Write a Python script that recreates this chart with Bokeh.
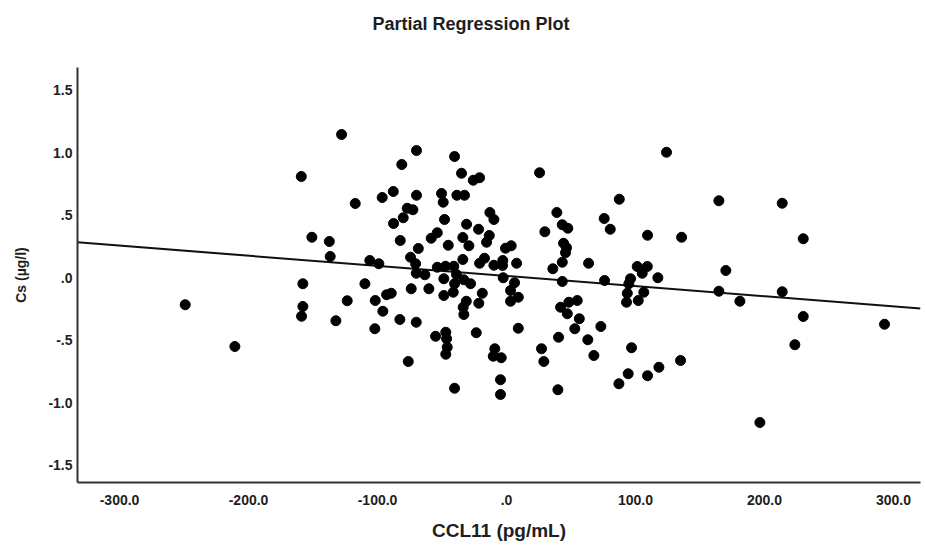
from bokeh.plotting import figure
from bokeh.models import Range1d, FixedTicker, ColumnDataSource, Title
from bokeh.embed import file_html
from bokeh.resources import INLINE
import numpy as np

# ---- data ----
ccl11 = [
    -127.9, -159.1, -117.3, -96.4, -87.8, -87.6, -150.9, -137.4, -136.7, -106.0,
    -99.0, -157.9, -109.8, -249.1, -157.9, -158.9, -123.5, -101.8, -93.0, -89.4,
    -95.9, -132.3, -102.1, -210.6,
    -69.8, -81.2, -40.3, -34.9, -25.8, -20.9, 25.6, 124.0, -69.8, -50.4,
    -49.1, -38.5, -32.6, 87.4, -77.0, -72.6, -80.1, -48.1, -12.9, -9.8,
    39.0, 43.2, 47.5, 75.7, 80.4, 29.7, -31.0, -21.7, -82.4, -58.4,
    -53.7, -45.2, -33.9, -29.2, -13.4, -15.5, 109.3, 135.7, 44.2, 46.5,
    45.7, -68.4, -0.8, 3.6,
    -74.4, -70.5, -70.0, -63.3, -53.7, -47.3, -40.9, -33.9, -48.6, -38.8,
    -33.1, -27.9, -40.3, -41.3, -48.6, -20.9, -17.1, -9.8, -2.9, -3.1,
    7.8, -2.6, 6.2, 35.9, 43.2, 63.6, 43.2, 76.0, 101.3, 109.1,
    105.2, 117.3, 96.1, 94.8, 93.6, 93.0, 106.4, 102.1, -73.9, -60.2,
    -18.8, -21.5, 3.1, 3.1, 9.1, -31.2, -33.6, -33.1, -82.7, -70.0,
    41.9, 48.3, 54.8, 47.1, 56.4, -55.0, -47.1, -46.5, -46.0, -47.1,
    -23.5, 9.1, 40.3, 52.9, 73.1, 63.0, 67.7, 96.9, -76.2, -9.1,
    -10.3, -4.1, 27.1, 28.9, -4.7, -4.7, -40.3, 39.8, 87.1, 94.3,
    109.3, 118.1, 134.9,
    164.6, 213.7, 230.0, 170.0, 164.6, 213.7, 180.9, 230.0, 293.0, 223.5,
    196.4,
]
cs = [
    1.144, 0.808, 0.592, 0.640, 0.688, 0.432, 0.322, 0.288, 0.168, 0.136,
    0.110, -0.050, -0.050, -0.218, -0.232, -0.310, -0.186, -0.184, -0.138, -0.126,
    -0.270, -0.346, -0.410, -0.552,
    1.016, 0.904, 0.968, 0.834, 0.778, 0.798, 0.838, 1.002, 0.658, 0.672,
    0.602, 0.658, 0.658, 0.626, 0.554, 0.542, 0.478, 0.464, 0.520, 0.464,
    0.520, 0.422, 0.394, 0.472, 0.386, 0.366, 0.426, 0.386, 0.296, 0.314,
    0.358, 0.258, 0.320, 0.254, 0.336, 0.282, 0.338, 0.322, 0.274, 0.238,
    0.198, 0.232, 0.234, 0.254,
    0.162, 0.110, 0.034, 0.022, 0.082, 0.090, 0.090, 0.144, -0.010, 0.024,
    -0.018, -0.050, -0.050, -0.118, -0.144, 0.114, 0.154, 0.098, 0.136, 0.096,
    0.114, -0.002, -0.042, 0.070, 0.122, 0.114, -0.032, -0.024, 0.088, 0.088,
    0.034, -0.002, -0.010, -0.050, -0.126, -0.198, -0.118, -0.184, -0.090, -0.090,
    -0.126, -0.206, -0.104, -0.190, -0.158, -0.190, -0.238, -0.296, -0.336, -0.358,
    -0.238, -0.198, -0.184, -0.290, -0.330, -0.470, -0.438, -0.490, -0.558, -0.614,
    -0.442, -0.406, -0.478, -0.410, -0.392, -0.498, -0.624, -0.562, -0.672, -0.570,
    -0.630, -0.642, -0.570, -0.672, -0.818, -0.936, -0.886, -0.898, -0.850, -0.770,
    -0.786, -0.718, -0.664,
    0.614, 0.594, 0.310, 0.056, -0.110, -0.114, -0.190, -0.312, -0.374, -0.538,
    -1.160,
]

fit_slope = -0.00081
fit_intercept = 0.012

x_ticks = [-300, -200, -100, 0, 100, 200, 300]
x_tick_labels = ["-300.0", "-200.0", "-100.0", ".0", "100.0", "200.0", "300.0"]
y_ticks = [-1.5, -1.0, -0.5, 0.0, 0.5, 1.0, 1.5]
y_tick_labels = ["-1.5", "-1.0", "-.5", ".0", ".5", "1.0", "1.5"]

x_lo, x_hi = -332.6, 320.9
y_lo, y_hi = -1.64, 1.68

FONT = "Liberation Sans"
TXT = "#1e1e1e"

p = figure(width=925, height=546, output_backend="svg", toolbar_location=None,
           x_range=Range1d(x_lo, x_hi), y_range=Range1d(y_lo, y_hi),
           min_border_left=77, min_border_right=5, min_border_top=67, min_border_bottom=64)

p.title = Title(text="Partial Regression Plot", align="left", offset=295,
                vertical_align="top", standoff=24, text_font=FONT,
                text_font_size="18px", text_font_style="bold", text_color=TXT)
# blank spacer panel between the frame and the title
p.add_layout(Title(text=" ", text_font_size="1px", standoff=17), "above")

p.background_fill_color = "white"
p.border_fill_color = "white"
p.outline_line_color = None
p.xgrid.visible = False
p.ygrid.visible = False

for ax in (p.xaxis[0], p.yaxis[0]):
    ax.major_tick_line_color = None
    ax.minor_tick_line_color = None
    ax.major_tick_in = 0
    ax.major_tick_out = 0
    ax.minor_tick_in = 0
    ax.minor_tick_out = 0
    ax.axis_line_color = "#333333"
    ax.axis_line_width = 2
    ax.major_label_text_font = FONT
    ax.major_label_text_font_size = "14px"
    ax.major_label_text_font_style = "bold"
    ax.major_label_text_color = TXT
    ax.axis_label_text_font = FONT
    ax.axis_label_text_font_style = "bold"
    ax.axis_label_text_color = TXT

p.xaxis.ticker = FixedTicker(ticks=x_ticks)
p.xaxis.major_label_overrides = {t: l for t, l in zip(x_ticks, x_tick_labels)}
p.yaxis.ticker = FixedTicker(ticks=y_ticks)
p.yaxis.major_label_overrides = {t: l for t, l in zip(y_ticks, y_tick_labels)}

p.xaxis.axis_label = "CCL11 (pg/mL)"
p.xaxis.axis_label_text_font_size = "19px"
p.xaxis.major_label_standoff = 12
p.xaxis.axis_label_standoff = 12

p.yaxis.axis_label = "Cs (µg/l)"
p.yaxis.axis_label_text_font_size = "14px"
p.yaxis.major_label_standoff = 5
p.yaxis.axis_label_standoff = 16

# regression line over the x range
lx = np.array([x_lo, x_hi])
ly = fit_intercept + fit_slope * lx
p.line(lx, ly, line_color="#111111", line_width=2)

src = ColumnDataSource(data=dict(x=ccl11, y=cs))
p.scatter("x", "y", source=src, size=10, fill_color="black", line_color="black")

open("out.html", "w").write(file_html(p, INLINE))
